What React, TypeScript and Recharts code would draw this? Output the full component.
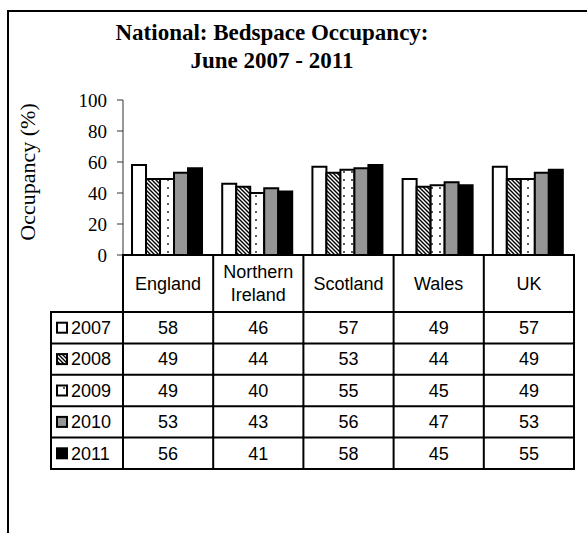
import { BarChart, Bar, XAxis, YAxis } from "recharts";

const categories = ["England", "Northern Ireland", "Scotland", "Wales", "UK"];
const headerLines = [["England"], ["Northern", "Ireland"], ["Scotland"], ["Wales"], ["UK"]];
const years = ["2007", "2008", "2009", "2010", "2011"];
const occ2007 = [58, 46, 57, 49, 57];
const occ2008 = [49, 44, 53, 44, 49];
const occ2009 = [49, 40, 55, 45, 49];
const occ2010 = [53, 43, 56, 47, 53];
const occ2011 = [56, 41, 58, 45, 55];
const yTicks = [0, 20, 40, 60, 80, 100];

const series = [occ2007, occ2008, occ2009, occ2010, occ2011];
const fills = ["#ffffff", "url(#hatch)", "url(#dots)", "#969696", "#000000"];

const data = categories.map((name, i) => {
  const row: Record<string, string | number> = { name };
  years.forEach((yr, s) => (row["y" + yr] = series[s][i]));
  return row;
});

// layout
const W = 587;
const H = 533;
const M = { top: 100, right: 13, bottom: 0, left: 0 };
const Y_W = 123;
const X_H = 278;
const COL_W = (W - Y_W - M.right) / categories.length;
const HEAD_H = 57;
const ROW_H = 31.4;
const LEG_X = 51;
const SANS = "'Liberation Sans', Arial, sans-serif";
const SERIF = "'Liberation Serif', 'Times New Roman', serif";

function TableTick(props: any) {
  const { x, y, payload } = props;
  const i: number = props.index ?? payload.index;
  const left = x - COL_W / 2;
  const right = x + COL_W / 2;
  const rowsTop = y + HEAD_H;
  const bottom = rowsTop + ROW_H * years.length;
  const lines = headerLines[i];
  const ln = { stroke: "#000", strokeWidth: 2, strokeLinecap: "square" as const };
  return (
    <g>
      <line x1={right} y1={y} x2={right} y2={bottom} {...ln} />
      {i === 0 && <line x1={left} y1={y} x2={left} y2={bottom} {...ln} />}
      {i === 0 && <line x1={LEG_X} y1={rowsTop} x2={LEG_X} y2={bottom} {...ln} />}
      {years.map((_, r) => (
        <line key={"h" + r} x1={i === 0 ? LEG_X : left} y1={rowsTop + r * ROW_H} x2={right} y2={rowsTop + r * ROW_H} {...ln} />
      ))}
      <line x1={i === 0 ? LEG_X : left} y1={bottom} x2={right} y2={bottom} {...ln} />
      {lines.map((t, k) => (
        <text
          key={"t" + k}
          x={x}
          y={y + HEAD_H / 2 + (k - (lines.length - 1) / 2) * 23}
          dy="0.35em"
          textAnchor="middle"
          fontSize={18}
          fontFamily={SANS}
          fill="#000"
        >
          {t}
        </text>
      ))}
      {series.map((s, r) => (
        <text
          key={"v" + r}
          x={x}
          y={rowsTop + (r + 0.5) * ROW_H}
          dy="0.35em"
          textAnchor="middle"
          fontSize={18}
          fontFamily={SANS}
          fill="#000"
        >
          {s[i]}
        </text>
      ))}
      {i === 0 &&
        years.map((yr, r) => (
          <g key={"k" + r}>
            <rect
              x={57}
              y={rowsTop + (r + 0.5) * ROW_H - 5}
              width={10}
              height={10}
              fill={fills[r]}
              stroke="#000"
              strokeWidth={2}
            />
            <text
              x={71}
              y={rowsTop + (r + 0.5) * ROW_H}
              dy="0.35em"
              fontSize={18}
              fontFamily={SANS}
              fill="#000"
            >
              {yr}
            </text>
          </g>
        ))}
    </g>
  );
}

export default function App() {
  return (
    <div style={{ position: "absolute", left: 0, top: 0, width: W, height: H, overflow: "hidden", background: "#fff" }}>
      <div
        style={{
          position: "absolute",
          left: 7,
          top: 10,
          width: 700,
          height: 700,
          border: "2px solid #000",
          boxSizing: "border-box",
        }}
      />
      <div
        style={{
          position: "absolute",
          left: 0,
          top: 19,
          width: 544,
          textAlign: "center",
          fontFamily: SERIF,
          fontWeight: "bold",
          fontSize: 23,
          lineHeight: "28px",
          color: "#000",
        }}
      >
        National: Bedspace Occupancy:
        <br />
        June 2007 - 2011
      </div>
      <div
        style={{
          position: "absolute",
          left: 28,
          top: 172,
          transform: "translate(-50%, -50%) rotate(-90deg)",
          whiteSpace: "nowrap",
          fontFamily: SERIF,
          fontSize: 22,
          color: "#000",
        }}
      >
        Occupancy (%)
      </div>
      <div style={{ position: "absolute", left: 0, top: 0 }}>
        <BarChart width={W} height={H} data={data} margin={M} barCategoryGap="10%" barGap={0}>
          <defs>
            <pattern id="hatch" patternUnits="userSpaceOnUse" width={4} height={4}>
              <rect width={4} height={4} fill="#fff" />
              <path d="M0,0 L4,4 M-1,3 L1,5 M3,-1 L5,1" stroke="#000" strokeWidth={1.4} />
            </pattern>
            <pattern id="dots" patternUnits="userSpaceOnUse" x={4} width={8} height={8}>
              <rect width={8} height={8} fill="#fff" />
              <rect x={3.2} y={3.2} width={1.6} height={1.6} fill="#000" />
            </pattern>
          </defs>
          <XAxis
            dataKey="name"
            height={X_H}
            interval={0}
            tickSize={0}
            tickMargin={0}
            tickLine={false}
            axisLine={{ stroke: "#000", strokeWidth: 2 }}
            tick={<TableTick />}
          />
          <YAxis
            width={Y_W}
            domain={[0, 100]}
            ticks={yTicks}
            tickSize={6}
            tickMargin={10}
            axisLine={{ stroke: "#333" }}
            tickLine={{ stroke: "#333" }}
            tick={{ fill: "#000", fontSize: 19, fontFamily: SERIF }}
          />
          {years.map((yr, s) => (
            <Bar
              key={yr}
              dataKey={"y" + yr}
              fill={fills[s]}
              stroke="#000"
              strokeWidth={2}
              isAnimationActive={false}
            />
          ))}
        </BarChart>
      </div>
    </div>
  );
}
